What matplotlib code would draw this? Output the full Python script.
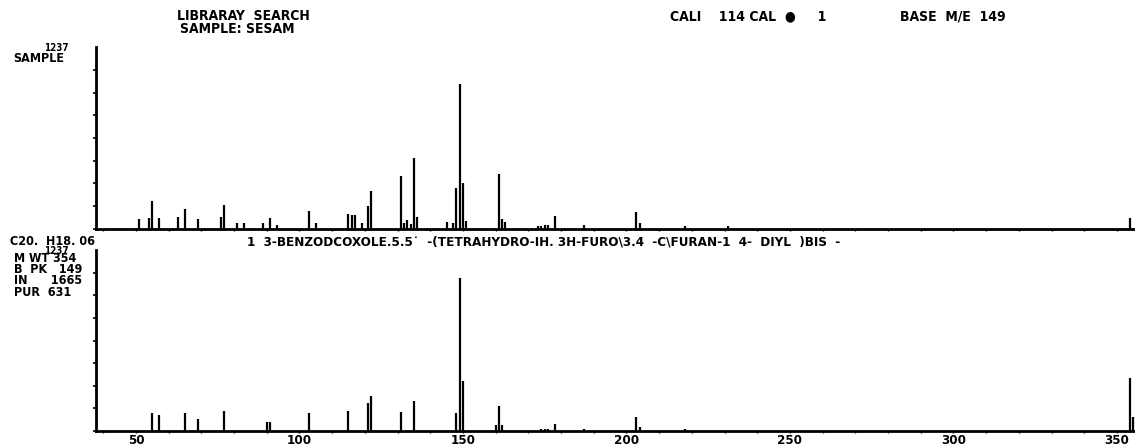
import matplotlib
matplotlib.use('Agg')
import matplotlib.pyplot as plt
from matplotlib import font_manager
from matplotlib.ticker import MultipleLocator

# Sample spectrum: m/z and relative intensity (base peak 149 = 100).
sample_mz = [51, 54, 55, 57, 63, 65, 69, 76, 77, 81, 83, 89, 91, 93, 103, 105,
             115, 116, 117, 119, 121, 122, 131, 132, 133, 134, 135, 136, 145,
             147, 148, 149, 150, 151, 161, 162, 163, 173, 174, 175, 176, 178,
             187, 203, 204, 218, 231, 354]
sample_int = [6.9, 7.6, 19.3, 7.6, 8.3, 13.8, 6.9, 8.3, 16.6, 4.1, 4.1, 4.1, 7.6,
              2.8, 12.4, 4.1, 10.3, 9.7, 9.7, 4.1, 15.9, 26.2, 36.6, 4.1, 6.2,
              3.4, 49.0, 8.3, 4.8, 4.1, 28.3, 100.0, 31.7, 5.5, 37.9, 6.9, 4.8,
              2.0, 2.0, 2.8, 2.8, 9.0, 2.8, 11.7, 4.1, 2.0, 2.0, 7.6]

# Library spectrum (best hit).
lib_mz = [55, 57, 65, 69, 77, 90, 91, 103, 115, 121, 122, 131, 135, 148, 149,
          150, 160, 161, 162, 174, 175, 176, 178, 187, 203, 204, 218, 354, 355]
lib_int = [11.6, 10.5, 11.6, 7.6, 13.3, 5.7, 5.7, 11.6, 13.3, 18.1, 22.9, 12.6,
           19.8, 11.6, 100.0, 32.9, 3.9, 16.3, 3.9, 1.3, 1.3, 1.3, 4.4, 1.3, 9.0,
           2.8, 1.3, 34.4, 9.3]

full_scale = '1237'
x_ticks = [50, 100, 150, 200, 250, 300, 350]

header_left = ['LIBRARAY  SEARCH', 'SAMPLE: SESAM']
header_cal = 'CALI    114 CAL  \u25cf     1'
header_base = 'BASE  M/E  149'
compound = ('1  3-BENZODCOXOLE.5.5\u02d9  -(TETRAHYDRO-IH. 3H-FURO\\3.4  '
            '-C\\FURAN-1  4-  DIYL  )BIS  -')
info_lines = ['M WT 354', 'B  PK   149', 'IN      1665', 'PUR  631']
formula = 'C20.  H18. 06'

names = {f.name for f in font_manager.fontManager.ttflist}
FONT = 'Liberation Sans Narrow' if 'Liberation Sans Narrow' in names else 'DejaVu Sans'
TXT = dict(family=FONT, weight='bold', fontstretch='condensed', color='black')

W, H = 1135, 447
fig = plt.figure(figsize=(W / 100, H / 100), dpi=100)


def fx(px):
    return px / W


def fy(py):
    return 1 - py / H


xlo, xhi = 37.8, 355.5


def spectrum_axes(rect, mz, inten, ytop, show_labels):
    ax = fig.add_axes(rect)
    ax.vlines(mz, 0, inten, colors='black', linewidth=1.6)
    ax.set_xlim(xlo, xhi)
    ax.set_ylim(0, ytop)
    for s in ('top', 'right'):
        ax.spines[s].set_visible(False)
    ax.spines['bottom'].set_linewidth(2.0)
    ax.spines['left'].set_linewidth(2.0)
    ax.set_yticks([ytop])
    ax.set_yticklabels([full_scale], fontsize=7, **TXT)
    ax.tick_params(axis='y', length=0, pad=20)
    ax.yaxis.set_minor_locator(MultipleLocator(ytop / 8))
    ax.tick_params(axis='y', which='minor', length=2, width=1.2, direction='out')
    ax.xaxis.set_minor_locator(MultipleLocator(10))
    ax.tick_params(axis='x', which='minor', length=1.5, width=1.0, direction='out')
    ax.set_xticks(x_ticks)
    if show_labels:
        ax.set_xticklabels([str(t) for t in x_ticks], fontsize=9.5, **TXT)
        ax.tick_params(axis='x', which='major', length=1.5, width=1.0, pad=1)
    else:
        ax.set_xticklabels([])
        ax.tick_params(axis='x', which='major', length=1.5, width=1.0)
    return ax


ax1 = spectrum_axes([fx(96), fy(229), fx(W - 96), 182 / H],
                    sample_mz, sample_int, 100 * 182 / 145, False)
ax2 = spectrum_axes([fx(96), fy(431), fx(W - 96), 181 / H],
                    lib_mz, lib_int, 100 * 181 / 153, True)

# header
fig.text(fx(177), fy(16), header_left[0], fontsize=10, va='center', ha='left', **TXT)
fig.text(fx(180), fy(29), header_left[1], fontsize=10, va='center', ha='left', **TXT)
fig.text(fx(670), fy(16), header_cal, fontsize=10, va='center', ha='left', **TXT)
fig.text(fx(900), fy(16), header_base, fontsize=10, va='center', ha='left', **TXT)
fig.text(fx(13), fy(58), 'SAMPLE', fontsize=9, va='center', ha='left', **TXT)

# library hit info
fig.text(fx(10), fy(242), formula, fontsize=9, va='center', ha='left', **TXT)
for i, line in enumerate(info_lines):
    fig.text(fx(14), fy(258 + 11.5 * i), line, fontsize=9, va='center',
             ha='left', **TXT)
fig.text(fx(247), fy(242), compound, fontsize=9.6, va='center', ha='left', **TXT)

fig.savefig('out.png', dpi=100)
